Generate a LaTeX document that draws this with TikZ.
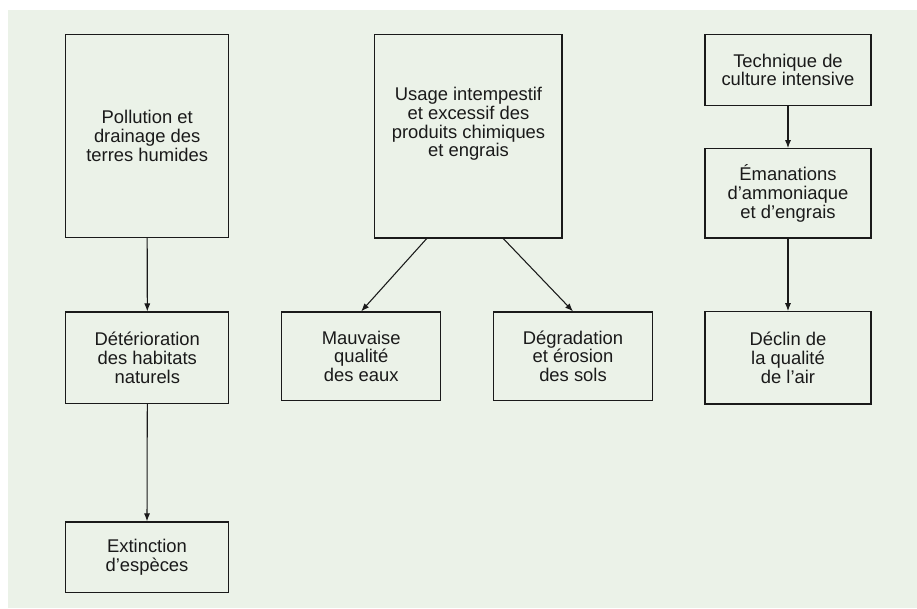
\documentclass[tikz,border=0pt]{standalone}
\usepackage{fontspec}
\setmainfont{Liberation Sans}
\usetikzlibrary{arrows.meta,calc}
\definecolor{panel}{HTML}{EBF2E8}
\definecolor{ink}{HTML}{1A1A1A}
\begin{document}
\begin{tikzpicture}[x=0.75pt,y=-0.75pt,
  box/.style={draw=ink, line width=0.9pt, rectangle, inner sep=0pt, align=center,
    font=\fontsize{13.8}{14}\selectfont, text=ink},
  txt/.style={inner sep=0pt, align=center, font=\fontsize{13.8}{14}\selectfont, text=ink},
  arr/.style={-{Latex[length=6pt,width=4.6pt]}, line width=0.8pt, draw=ink}]
\useasboundingbox (0,0) rectangle (917,608);
\fill[panel] (8,10) rectangle (917,608);

% left column
\node[box, minimum width=122.25pt, minimum height=152pt] (pollution) at (147.2,136)
  {Pollution et\\drainage des\\terres humides};
\node[box, minimum width=122.25pt, minimum height=68.5pt] (deterioration) at (147.3,357.7)
  {Détérioration\\des habitats\\naturels};
\node[box, minimum width=122.25pt, minimum height=52.9pt] (extinction) at (147,557.2)
  {Extinction\\d’espèces};

% middle column
\node[box, minimum width=140.5pt, minimum height=152.5pt] (usage) at (468.3,136.3) {};
\node[txt] (usagetext) at (468.5,124)
  {Usage intempestif\\et excessif des\\produits chimiques\\et engrais};
\node[box, minimum width=119.25pt, minimum height=66.5pt] (eaux) at (361.2,356.3)
  {Mauvaise\\qualité\\des eaux};
\node[box, minimum width=119.5pt, minimum height=66.5pt] (sols) at (573,356.3)
  {Dégradation\\et érosion\\des sols};

% right column
\node[box, minimum width=124.5pt, minimum height=53pt] (technique) at (788,70)
  {Technique de\\culture intensive};
\node[box, minimum width=124.5pt, minimum height=67pt] (emanations) at (788,193.3)
  {Émanations\\d’ammoniaque\\et d’engrais};
\node[box, minimum width=124.5pt, minimum height=69.2pt] (air) at (788,357.8)
  {Déclin de\\la qualité\\de l’air};

% connectors
\coordinate (usageL) at ($(usage.south)+(-41.6,0)$);
\coordinate (usageR) at ($(usage.south)+(35,0)$);
\draw[arr] (pollution.south) -- (deterioration.north);
\draw[arr] (deterioration.south) -- (extinction.north);
\draw[arr] (usageL) -- (eaux.north);
\draw[arr] (usageR) -- (sols.north);
\draw[arr] (technique.south) -- (emanations.north);
\draw[arr] (emanations.south) -- (air.north);
\end{tikzpicture}
\end{document}
